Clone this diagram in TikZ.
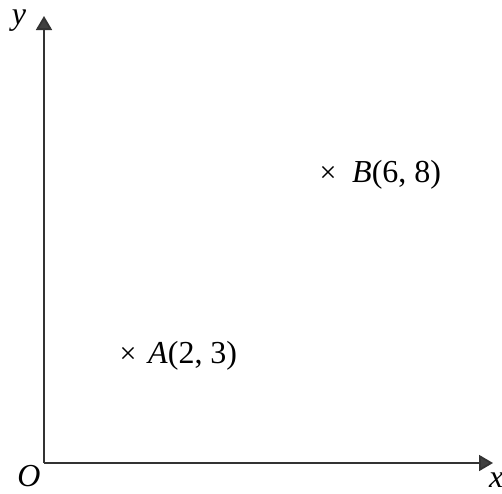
\documentclass[tikz,border=0pt]{standalone}
\usepackage{fontspec}
\setmainfont{Liberation Serif}
\usetikzlibrary{arrows.meta}
\begin{document}
\begin{tikzpicture}[x=1pt,y=-1pt,
  axis/.style={line width=1.8pt,draw=black!80,-{Triangle[length=14pt,width=16pt,fill=black!75]}},
  lbl/.style={inner sep=0pt,font=\fontsize{32}{38}\selectfont},
  cross/.style={inner sep=0pt,font=\fontsize{30}{34}\selectfont}]
\useasboundingbox (0,0) rectangle (502,493);
\coordinate (O) at (44,463);
\coordinate (ytip) at (44,16);
\coordinate (xtip) at (493,463);
\draw[axis] (O) -- (ytip);
\draw[axis] (O) -- (xtip);
\node[lbl] (ylab) at (19,21) {\textit{y}};
\node[lbl] (olab) at (29,476) {\textit{O}};
\node[lbl,anchor=west] (xlab) at (489,480) {\textit{x}};
\node[cross] (ca) at (128,355) {×};
\node[lbl,anchor=west] (A) at (148,356) {\textit{A}(2, 3)};
\node[cross] (cb) at (328,174) {×};
\node[lbl,anchor=west] (B) at (352,175) {\textit{B}(6, 8)};
\end{tikzpicture}
\end{document}
